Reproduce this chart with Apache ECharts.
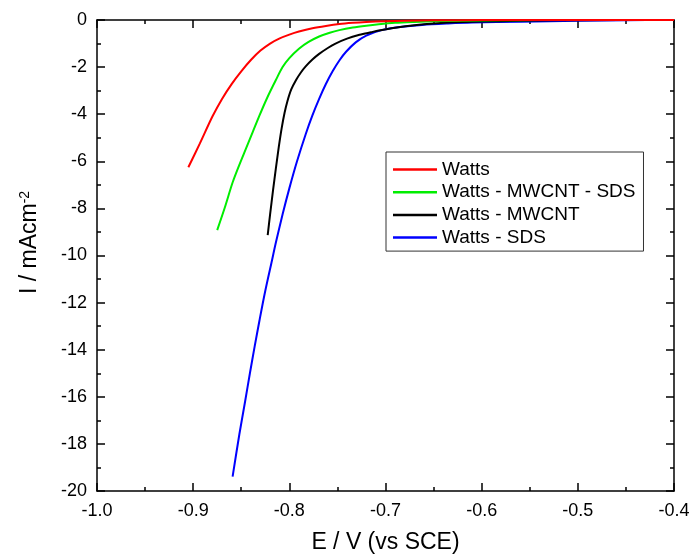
<!DOCTYPE html>
<html>
<head>
<meta charset="utf-8">
<script src="https://cdn.jsdelivr.net/npm/echarts@6/dist/echarts.min.js"></script>
<style>
  html, body { margin: 0; padding: 0; background: #fff; }
  #chart { width: 692px; height: 554px; }
</style>
</head>
<body>
<div id="chart"></div>
<script>
// Cathodic polarization curves (potential E vs current density I)
const seriesNames = ['Watts', 'Watts - MWCNT - SDS', 'Watts - MWCNT', 'Watts - SDS'];
const seriesColors = ['#ff0000', '#00ee00', '#000000', '#0000ff'];

const wattsE = [-0.905, -0.893, -0.880, -0.870, -0.860, -0.850, -0.840, -0.830, -0.820, -0.810, -0.800, -0.790, -0.776, -0.762, -0.748, -0.734, -0.720, -0.70, -0.68, -0.65, -0.60, -0.55, -0.50, -0.45, -0.40];
const wattsI = [-6.25, -5.24, -4.10, -3.35, -2.72, -2.18, -1.70, -1.30, -1.00, -0.78, -0.62, -0.49, -0.35, -0.25, -0.17, -0.12, -0.085, -0.05, -0.03, -0.015, -0.005, 0, 0, 0, 0];

const mwcntSdsE = [-0.875, -0.867, -0.859, -0.852, -0.845, -0.838, -0.831, -0.823, -0.814, -0.807, -0.800, -0.790, -0.780, -0.769, -0.758, -0.748, -0.734, -0.720, -0.707, -0.69, -0.67, -0.65, -0.62, -0.58, -0.54, -0.50, -0.40];
const mwcntSdsI = [-8.92, -7.95, -6.9, -6.15, -5.45, -4.75, -4.05, -3.3, -2.55, -2.0, -1.62, -1.22, -0.93, -0.70, -0.54, -0.43, -0.32, -0.24, -0.18, -0.12, -0.08, -0.05, -0.03, -0.015, -0.005, 0, 0];

const mwcntE = [-0.8225, -0.820, -0.817, -0.814, -0.811, -0.808, -0.805, -0.802, -0.798, -0.793, -0.788, -0.783, -0.776, -0.769, -0.760, -0.752, -0.740, -0.727, -0.715, -0.707, -0.69, -0.67, -0.65, -0.62, -0.58, -0.54, -0.50, -0.40];
const mwcntI = [-9.13, -8.25, -7.25, -6.3, -5.4, -4.6, -3.95, -3.45, -2.95, -2.55, -2.23, -1.97, -1.68, -1.44, -1.19, -1.0, -0.79, -0.63, -0.52, -0.45, -0.33, -0.22, -0.15, -0.09, -0.05, -0.02, -0.01, 0];

const sdsE = [-0.859, -0.852, -0.846, -0.841, -0.836, -0.831, -0.825, -0.818, -0.814, -0.807, -0.800, -0.792, -0.783, -0.776, -0.769, -0.762, -0.755, -0.748, -0.741, -0.731, -0.720, -0.703, -0.685, -0.662, -0.635, -0.610, -0.559, -0.50, -0.45, -0.40];
const sdsI = [-19.39, -17.6, -16.2, -15.0, -13.85, -12.75, -11.5, -10.2, -9.45, -8.25, -7.15, -6.0, -4.85, -4.05, -3.35, -2.72, -2.18, -1.72, -1.35, -0.95, -0.66, -0.42, -0.3, -0.21, -0.15, -0.11, -0.07, -0.03, -0.01, 0];

const xTicks = { min: -1.0, max: -0.4, step: 0.1 };
const yTicks = { min: -20, max: 0, step: 2 };

const curves = [[wattsE, wattsI], [mwcntSdsE, mwcntSdsI], [mwcntE, mwcntI], [sdsE, sdsI]];

const FONT = '"Liberation Sans", Arial, sans-serif';

function frameAxis(extra) {
  return Object.assign({
    axisLine: { show: true, onZero: false, lineStyle: { color: '#000', width: 1.5 } },
    axisTick: { show: true, inside: true, length: 8, lineStyle: { color: '#000', width: 1.5 } },
    minorTick: { show: true, splitNumber: 2, length: 4, lineStyle: { color: '#000', width: 1.5 } },
    splitLine: { show: false },
    minorSplitLine: { show: false }
  }, extra);
}

const chart = echarts.init(document.getElementById('chart'), null, { renderer: 'canvas' });

chart.setOption({
  backgroundColor: '#ffffff',
  animation: false,
  textStyle: { fontFamily: FONT },
  grid: { left: 97, right: 18, top: 20, bottom: 63, containLabel: false, outerBoundsMode: 'none' },
  legend: {
    orient: 'vertical',
    left: 386,
    top: 152,
    padding: [8, 8, 4, 7],
    itemGap: 3.7,
    itemWidth: 44,
    itemHeight: 2.5,
    icon: 'rect',
    borderColor: '#333',
    borderWidth: 1,
    backgroundColor: '#fff',
    textStyle: { fontFamily: FONT, fontSize: 19, color: '#000' },
    data: seriesNames
  },
  xAxis: [
    frameAxis({
      type: 'value', position: 'bottom',
      min: xTicks.min, max: xTicks.max, interval: xTicks.step,
      name: 'E / V (vs SCE)', nameLocation: 'middle', nameGap: 40,
      nameTextStyle: { fontFamily: FONT, fontSize: 23, color: '#000' },
      axisLabel: { show: true, margin: 11, fontFamily: FONT, fontSize: 18, color: '#000',
        formatter: v => v.toFixed(1) }
    }),
    frameAxis({
      type: 'value', position: 'top',
      min: xTicks.min, max: xTicks.max, interval: xTicks.step,
      axisLabel: { show: false }
    })
  ],
  yAxis: [
    frameAxis({
      type: 'value', position: 'left',
      min: yTicks.min, max: yTicks.max, interval: yTicks.step,
      name: '{a|I / mAcm}{b|-2}', nameLocation: 'middle', nameGap: 55, nameRotate: 90,
      nameTextStyle: {
        fontFamily: FONT, fontSize: 23, color: '#000',
        padding: [0, 0, 0, 26],
        rich: {
          a: { fontFamily: FONT, fontSize: 23, color: '#000', lineHeight: 24 },
          b: { fontFamily: FONT, fontSize: 14, color: '#000', verticalAlign: 'top', lineHeight: 24, padding: [0, 0, 12, 0] }
        }
      },
      axisLabel: { show: true, margin: 10, fontFamily: FONT, fontSize: 18, color: '#000' }
    }),
    frameAxis({
      type: 'value', position: 'right',
      min: yTicks.min, max: yTicks.max, interval: yTicks.step,
      axisLabel: { show: false }
    })
  ],
  series: curves.map((c, k) => ({
    name: seriesNames[k],
    type: 'line',
    xAxisIndex: 0,
    yAxisIndex: 0,
    showSymbol: false,
    smooth: 0.3,
    color: seriesColors[k],
    lineStyle: { color: seriesColors[k], width: 2 },
    data: c[0].map((e, i) => [e, c[1][i]]),
    z: 3 + (seriesNames.length - k)
  }))
});
</script>
</body>
</html>
